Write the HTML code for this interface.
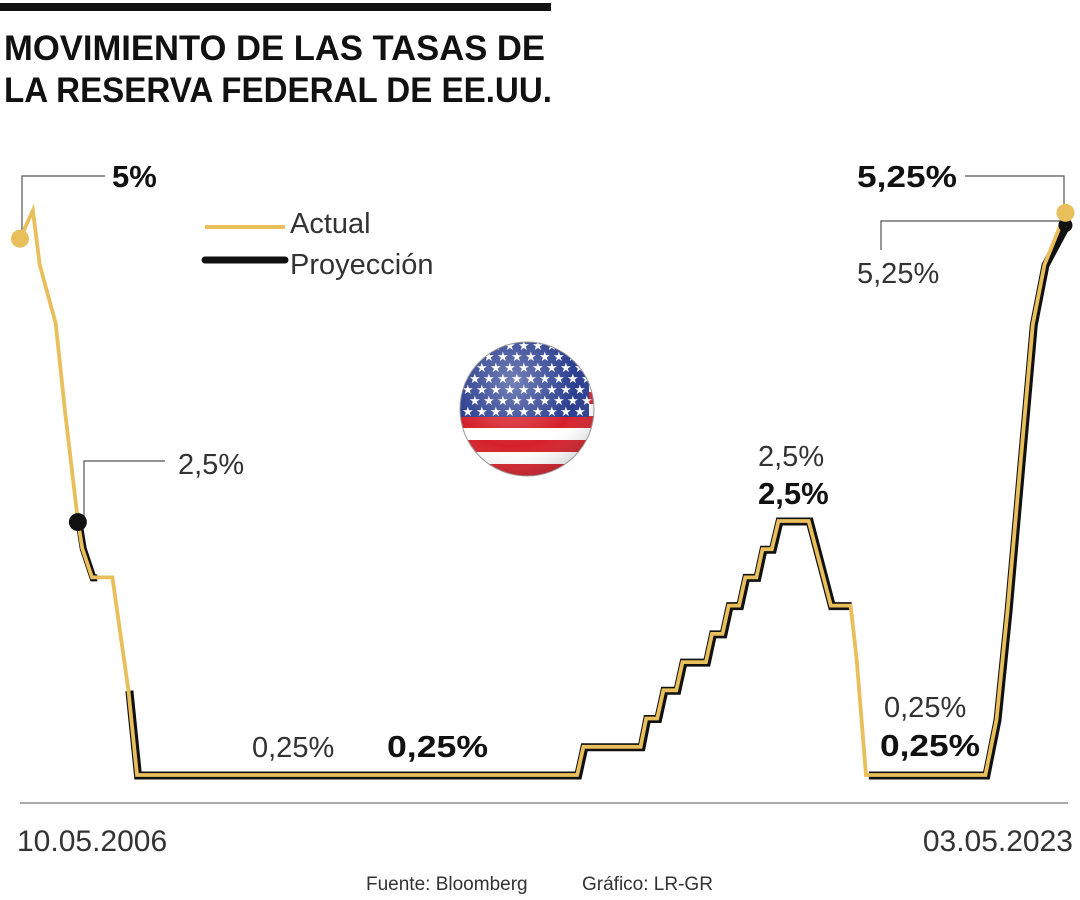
<!DOCTYPE html>
<html><head><meta charset="utf-8"><style>
html,body{margin:0;padding:0;background:#fff;}
svg{display:block;font-family:"Liberation Sans",sans-serif;}
</style></head><body>
<svg id="chart" width="1080" height="900" viewBox="0 0 1080 900">
<defs>
<clipPath id="flagclip"><circle cx="527" cy="409" r="67"/></clipPath>
<radialGradient id="gloss" cx="0.4" cy="0.3" r="0.8">
<stop offset="0" stop-color="#fff" stop-opacity="0.35"/><stop offset="0.6" stop-color="#fff" stop-opacity="0"/><stop offset="1" stop-color="#000" stop-opacity="0.25"/>
</radialGradient>
</defs>
<rect x="0" y="3" width="551" height="8" fill="#111"/>
<text x="4" y="60" font-size="35" font-weight="bold" fill="#111" textLength="541" lengthAdjust="spacingAndGlyphs">MOVIMIENTO DE LAS TASAS DE</text>
<text x="4" y="102" font-size="35" font-weight="bold" fill="#111" textLength="548" lengthAdjust="spacingAndGlyphs">LA RESERVA FEDERAL DE EE.UU.</text>

<g>
<line x1="205" y1="227" x2="285" y2="227" stroke="#e9bf5b" stroke-width="4"/>
<text x="290" y="233" font-size="29" fill="#333">Actual</text>
<line x1="205" y1="260" x2="285" y2="260" stroke="#111" stroke-width="7" stroke-linecap="round"/>
<text x="290" y="274" font-size="29" fill="#333">Proyección</text>
</g>

<g>
<g clip-path="url(#flagclip)">
<rect x="455" y="337" width="150" height="150" fill="#fff"/>
<rect x="455" y="416" width="150" height="12" fill="#d5202b"/>
<rect x="455" y="440" width="150" height="12" fill="#d5202b"/>
<rect x="455" y="464" width="150" height="12" fill="#d5202b"/>
<rect x="455" y="392" width="150" height="12" fill="#d5202b"/>
<rect x="455" y="337" width="134" height="80" fill="#2a3d8f"/>
<g id="stars" fill="#fff" font-size="13"></g>
<circle cx="527" cy="409" r="67" fill="url(#gloss)"/>
</g>
<circle cx="527" cy="409" r="67" fill="none" stroke="#999" stroke-width="1"/>
</g>

<line x1="20" y1="803" x2="1068" y2="803" stroke="#777" stroke-width="1.3"/>
<text x="17" y="851" font-size="30" fill="#333">10.05.2006</text>
<text x="1073" y="851" font-size="30" fill="#333" text-anchor="end">03.05.2023</text>
<text x="366" y="890" font-size="19" fill="#333">Fuente: Bloomberg</text>
<text x="582" y="890" font-size="19" fill="#333">Gráfico: LR-GR</text>

<g id="leaders" stroke="#555" stroke-width="1.2" fill="none">
<polyline points="22,236 22,176 105,176"/>
<polyline points="84,516 84,461 165,461"/>
<polyline points="965,176 1064,176 1064,212"/>
<polyline points="881,250 881,221 1060,221"/>
</g>

<g id="series"></g>

<text x="112" y="187" font-size="31" font-weight="bold" fill="#111">5%</text>
<text x="178" y="474" font-size="29" fill="#333">2,5%</text>
<text x="857" y="187" font-size="31" font-weight="bold" fill="#111" textLength="100" lengthAdjust="spacingAndGlyphs">5,25%</text>
<text x="857" y="283" font-size="29" fill="#333">5,25%</text>
<text x="758" y="466" font-size="29" fill="#333">2,5%</text>
<text x="758" y="504" font-size="31" font-weight="bold" fill="#111">2,5%</text>
<text x="252" y="757" font-size="29" fill="#333">0,25%</text>
<text x="387" y="757" font-size="31" font-weight="bold" fill="#111" textLength="101" lengthAdjust="spacingAndGlyphs">0,25%</text>
<text x="884" y="717" font-size="29" fill="#333">0,25%</text>
<text x="880" y="756" font-size="31" font-weight="bold" fill="#111" textLength="100" lengthAdjust="spacingAndGlyphs">0,25%</text>
</svg>
<script>
// Data: time in fractional years, rate in %
const actualDates = [2006.36,2006.57,2006.68,2006.94,2007.09,2007.30,2007.37,2007.53,2007.86,2008.12,2008.26,2015.41,2015.51,2016.44,2016.53,2016.71,2016.81,2017.02,2017.12,2017.50,2017.60,2017.77,2017.87,2018.04,2018.14,2018.32,2018.42,2018.57,2018.68,2019.17,2019.53,2019.85,2019.95,2020.10,2022.04,2022.22,2022.40,2022.60,2022.81,2023.00,2023.34];
const actualRates = [5.0,5.25,4.77,4.25,3.48,2.5,2.26,2.0,2.0,1.0,0.25,0.25,0.5,0.5,0.75,0.75,1.0,1.0,1.25,1.25,1.5,1.5,1.75,1.75,2.0,2.0,2.25,2.25,2.5,2.5,1.75,1.75,1.27,0.25,0.25,0.74,1.71,2.95,4.24,4.77,5.23];
const projDatesA = [2007.30,2007.37,2007.53,2007.60];
const projRatesA = [2.5,2.26,2.0,2.0];
const projDatesB = [2008.12,2008.26,2015.41,2015.51,2016.44,2016.53,2016.71,2016.81,2017.02,2017.12,2017.50,2017.60,2017.77,2017.87,2018.04,2018.14,2018.32,2018.42,2018.57,2018.68,2019.17,2019.53,2019.85];
const projRatesB = [1.0,0.25,0.25,0.5,0.5,0.75,0.75,1.0,1.0,1.25,1.25,1.5,1.5,1.75,1.75,2.0,2.0,2.25,2.25,2.5,2.5,1.75,1.75];
const projDatesC = [2020.13,2022.04,2022.22,2022.40,2022.60,2022.81,2023.00,2023.34];
const projRatesC = [0.25,0.25,0.74,1.71,2.95,4.24,4.77,5.12];

function xS(t){return 20+(t-2006.36)*61.57;}
function yS(v){return 775-(v-0.25)*112.9;}
const NS="http://www.w3.org/2000/svg";
const g=document.getElementById('series');
function pts(ds,rs,dx,dy){return ds.map((d,i)=>(xS(d)+dx).toFixed(1)+','+(yS(rs[i])+dy).toFixed(1)).join(' ');}
function line(ds,rs,color,w,dx,dy,name){
  const p=document.createElementNS(NS,'polyline');
  p.setAttribute('points',pts(ds,rs,dx,dy));
  p.setAttribute('fill','none');p.setAttribute('stroke',color);p.setAttribute('stroke-width',w);
  p.setAttribute('stroke-linejoin','miter');
  
  
  g.appendChild(p);
}
line(projDatesA,projRatesA,'#111',7,1,0.5,'projection-line');
line(projDatesB,projRatesB,'#111',8,1,0.5,'projection-line');
line(projDatesC,projRatesC,'#111',8,1,0.5,'projection-line');
line(actualDates,actualRates,'#e9bf5b',3.8,0,0,'actual-line');
function dot(t,v,c,r,name){
  const c1=document.createElementNS(NS,'circle');
  c1.setAttribute('cx',xS(t));c1.setAttribute('cy',yS(v));c1.setAttribute('r',r);c1.setAttribute('fill',c);
  
  
  g.appendChild(c1);
}
dot(projDatesA[0],projRatesA[0]-0.01,'#111',9,'projection-start-dot');
dot(projDatesC[projDatesC.length-1],projRatesC[projRatesC.length-1],'#111',7,'projection-end-dot');
dot(actualDates[0],actualRates[0],'#e9bf5b',9,'actual-start-dot');
dot(actualDates[actualDates.length-1],actualRates[actualRates.length-1],'#e9bf5b',9,'actual-end-dot');
// stars
const sg=document.getElementById('stars');
for(let r=0;r<7;r++){for(let c=0;c<9;c++){
  const s=document.createElementNS(NS,'text');
  s.setAttribute('x',462+c*14+(r%2?7:0));s.setAttribute('y',350+r*11);
  s.textContent='★';
  
  
  sg.appendChild(s);
}}
</script>
</body></html>
